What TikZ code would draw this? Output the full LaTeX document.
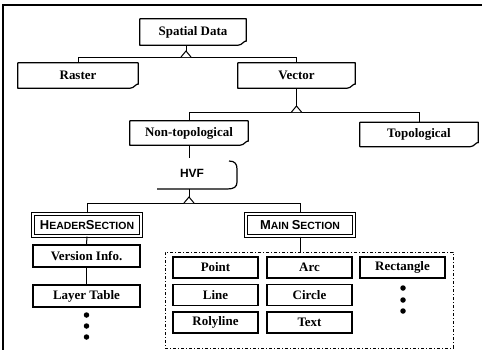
\documentclass[tikz,border=0pt]{standalone}
\usepackage{fontspec}
\setmainfont{Liberation Serif}
\newfontfamily\hvsans{Liberation Sans}
\newcommand\notepath[1]{\draw[boxline] (#1.south west) -- (#1.north west) -- (#1.north east) -- ([yshift=4bp]#1.south east) .. controls ([xshift=-2bp,yshift=5bp]#1.south east) and ([xshift=-4bp]#1.south east) .. ([xshift=-8bp]#1.south east) -- cycle;}
\newcommand\junc[1]{\draw[conn,fill=white] ([xshift=-5bp]#1) -- ([yshift=6bp]#1) -- ([xshift=5bp]#1);}
\newcommand\bigc[1]{{\fontsize{13}{13}\selectfont #1}}
\begin{document}
\begin{tikzpicture}[x=1bp,y=-1bp,
  txt/.style={font=\bfseries\fontsize{13}{14}\selectfont, inner sep=0pt},
  nbox/.style={txt, minimum width=#1, minimum height=24bp},
  boxline/.style={line width=1.2bp, line join=round},
  conn/.style={line width=1bp},
  plainbox/.style={txt, draw, line width=1.2bp, minimum width=85bp, minimum height=21bp},
  dblbox/.style={inner sep=0pt, draw, line width=1.1bp, double=white, double distance=1.4bp, minimum width=108bp, minimum height=22bp, font=\hvsans\bfseries\fontsize{10.5}{11}\selectfont},
  dotm/.style={fill, circle, inner sep=0pt, minimum size=5.5bp}]
\useasboundingbox (0,0) rectangle (482,350);
% frame
\draw[line width=1.8bp] (2,5) -- (482,5);
\draw[line width=1.3bp] (3,5) -- (3,350);
% top level
\node[nbox=106bp, minimum height=26bp] (sd) at (193,32) {Spatial Data};
\node[nbox=120bp, minimum height=25bp] (raster) at (78,75.5) {Raster};
\node[nbox=117bp, minimum height=25bp] (vector) at (296.5,75.5) {Vector};
\node[nbox=118bp] (nontop) at (189,133) {Non-topological};
\node[nbox=118bp] (topo) at (419,134.5) {Topological};
\notepath{sd}
\notepath{raster}
\notepath{vector}
\notepath{nontop}
\notepath{topo}
% junction 1
\coordinate (j1) at (186,57);
\draw[conn] (sd.south -| j1) -- (j1);
\draw[conn] (raster.north) -- (raster.north |- j1) -- (vector.north |- j1) -- (vector.north);
\junc{j1}
% junction 2
\coordinate (j2) at (296.5,112);
\draw[conn] (vector.south) -- (j2);
\draw[conn] (nontop.north) -- (nontop.north |- j2) -- (topo.north |- j2) -- (topo.north);
\junc{j2}
% HVF
\node[inner sep=0pt, font=\hvsans\bfseries\fontsize{12}{12}\selectfont] (hvf) at (192,173) {HVF};
\coordinate (hvftop) at (189,158);
\coordinate (hvfbot) at (189,189);
\draw[conn] (nontop.south) -- (hvftop);
\draw[boxline] (229,161) .. controls (235,161) and (237,164) .. (237,169) -- (237,182) .. controls (237,187) and (234,189) .. (227,189) -- (157,189);
% junction 3
\node[dblbox] (header) at (87,225) {\bigc{H}EADER\bigc{S}ECTION};
\node[dblbox] (main) at (300,225) {\bigc{M}AIN \bigc{S}ECTION};
\coordinate (j3) at (189,203);
\draw[conn] (hvfbot) -- (j3);
\draw[conn] (header.north) -- (header.north |- j3) -- (main.north |- j3) -- (main.north);
\junc{j3}
% header children
\node[plainbox, minimum width=107bp, minimum height=22bp] (ver) at (86.5,256) {Version Info.};
\node[plainbox, minimum width=107bp, minimum height=22bp] (layer) at (86.5,296) {Layer Table};
\draw[conn] (header.south) -- (ver.north);
\draw[conn] (ver.south) -- (layer.north);
\node[dotm] (hd1) at (86.5,315) {};
\node[dotm] (hd2) at (86.5,326) {};
\node[dotm] (hd3) at (86.5,337) {};
% main children
\node[draw, line width=1bp, dash pattern=on 3bp off 2bp on 1bp off 2bp, minimum width=288bp, minimum height=96bp, inner sep=0pt] (grp) at (309,300) {};
\draw[conn] (main.south) -- (main.south |- grp.north);
\node[plainbox] (point) at (215.5,267.5) {Point};
\node[plainbox] (arc) at (309.5,267.5) {Arc};
\node[plainbox] (rect) at (402.5,267.5) {Rectangle};
\node[plainbox] (line) at (215.5,295) {Line};
\node[plainbox] (circle) at (309.5,295) {Circle};
\node[plainbox] (poly) at (215.5,322.5) {Rolyline};
\node[plainbox] (text) at (309.5,322.5) {Text};
\node[dotm] (md1) at (403,288) {};
\node[dotm] (md2) at (403,300) {};
\node[dotm] (md3) at (403,311) {};
\end{tikzpicture}
\end{document}
